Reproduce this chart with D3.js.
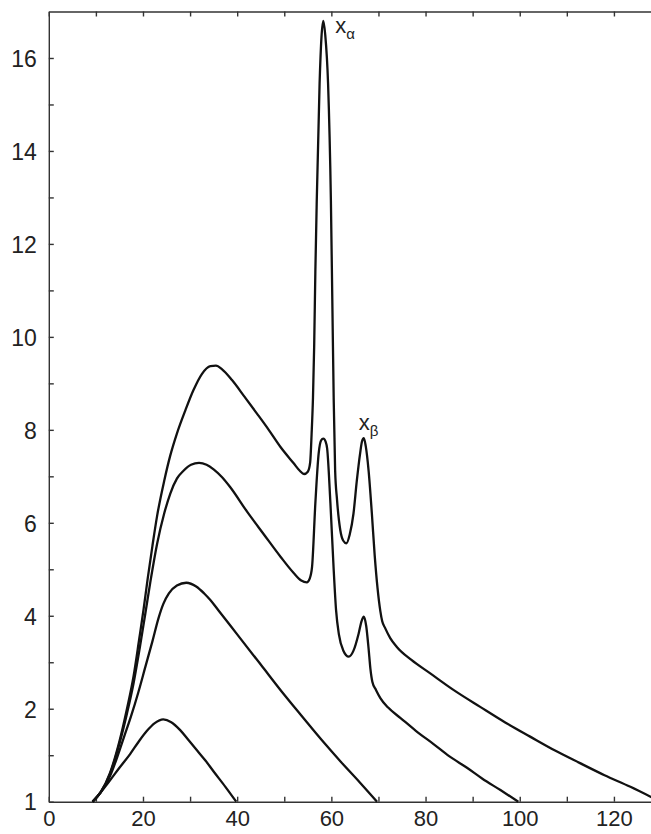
<!DOCTYPE html>
<html>
<head>
<meta charset="utf-8">
<script src="https://cdn.jsdelivr.net/npm/d3@7"></script>
<style>
  html, body { margin: 0; padding: 0; background: #fff; }
  svg { display: block; }
  text { font-family: "Liberation Sans", Arial, Helvetica, sans-serif; }
</style>
</head>
<body>
<svg id="chart" width="651" height="834"></svg>
<script>
// ---- data ----
const xTicks = [0, 10, 20, 30, 40, 50, 60, 70, 80, 90, 100, 110, 120];
const xTickLabels = ["0", "", "20", "", "40", "", "60", "", "80", "", "100", "", "120"];
const yTicks = [0, 1, 2, 3, 4, 5, 6, 7, 8, 9, 10, 11, 12, 13, 14, 15, 16];
const yTickLabels = ["1", "", "2", "", "4", "", "6", "", "8", "", "10", "", "12", "", "14", "", "16"];

const kv40 = [[9.3,0],[11,0.2],[13,0.46],[15,0.73],[17.3,1.03],[19,1.28],[20.8,1.52],[22.5,1.69],[24.3,1.77],[26,1.71],[27.9,1.54],[29.7,1.32],[31.5,1.1],[33.3,0.88],[35,0.65],[37.5,0.32],[39.8,0]];

const kv70 = [[9.3,0],[11,0.2],[13,0.55],[14.5,0.95],[16,1.4],[17.5,1.85],[19,2.35],[20.5,2.9],[22,3.45],[23.3,3.95],[24.3,4.25],[25.5,4.48],[27.2,4.65],[29.2,4.71],[31.3,4.63],[33,4.48],[34.3,4.34],[36,4.12],[40,3.6],[45,2.95],[50,2.3],[53.4,1.88],[58,1.32],[62,0.86],[66,0.42],[69.7,0]];

const kv100 = [[9.3,0],[11,0.2],[13,0.6],[15,1.25],[16.6,1.9],[18,2.55],[19.3,3.3],[20.5,4.05],[21.6,4.75],[23,5.55],[24.5,6.2],[25.8,6.63],[27.2,6.95],[28.6,7.12],[30.2,7.25],[31.9,7.29],[33.5,7.25],[35,7.15],[36.8,6.98],[38.5,6.77],[42.1,6.24],[45.6,5.76],[49.2,5.27],[52,4.92],[53.6,4.76],[54.8,4.72],[55.4,4.8],[55.9,5.05],[56.6,6.42],[57.3,7.49],[57.8,7.77],[58.3,7.81],[58.8,7.74],[59.1,7.6],[59.8,6.42],[60.5,4.98],[61.0,4.12],[61.6,3.6],[62.5,3.26],[63.7,3.12],[64.7,3.25],[65.8,3.62],[66.4,3.88],[66.9,3.98],[67.4,3.78],[67.9,3.3],[68.3,2.85],[68.7,2.58],[69.5,2.4],[70.4,2.23],[72,2.03],[74.7,1.8],[78,1.52],[81.7,1.24],[85,0.98],[88.8,0.73],[92,0.5],[95.9,0.25],[99.7,0]];

const kv128 = [[9.3,0],[11,0.2],[13,0.62],[15,1.3],[16.6,2.0],[18,2.7],[19.2,3.5],[20.1,4.12],[21,4.8],[22,5.5],[23,6.15],[24.5,6.9],[25.8,7.45],[27.2,7.92],[29,8.42],[30.7,8.85],[32.5,9.2],[34.3,9.37],[35.5,9.38],[36.8,9.3],[38.9,9.07],[41.5,8.72],[44.2,8.35],[46.7,8.0],[49.2,7.63],[52,7.28],[53.3,7.12],[54.2,7.05],[55.0,7.1],[55.5,7.3],[55.8,7.9],[56.1,8.7],[56.35,9.8],[56.6,11.4],[56.9,12.94],[57.5,15.45],[57.9,16.45],[58.3,16.8],[58.7,16.5],[59.3,15.45],[59.9,12.94],[60.2,10.8],[60.5,8.64],[60.8,7.13],[61.2,6.5],[61.9,5.84],[62.5,5.62],[63.2,5.56],[63.9,5.75],[64.7,6.2],[65.4,6.9],[66.1,7.49],[66.5,7.75],[66.9,7.82],[67.3,7.65],[67.9,7.13],[68.6,6.2],[69.2,5.3],[69.8,4.6],[70.4,4.1],[70.8,3.88],[71.4,3.74],[72.5,3.52],[73.9,3.33],[77,3.05],[81,2.76],[86,2.4],[91.6,2.04],[97,1.7],[102.2,1.4],[107.5,1.1],[112.8,0.83],[118,0.57],[123.5,0.32],[128.1,0.09]];

const seriesList = [kv40, kv70, kv100, kv128];

const peakLabels = [
  { base: "x", sub: "\u03B1", x: 60.8, y: 16.53 },
  { base: "x", sub: "\u03B2", x: 65.8, y: 8.0 }
];

// ---- chart ----
const svg = d3.select("#chart");

const x = d3.scaleLinear().domain([0, 128]).range([48.8, 651.6]);
const y = d3.scaleLinear().domain([0, 17]).range([801.7, 11.5]);

const axisColor = "#333";

// bottom axis
const gx = svg.append("g").attr("transform", `translate(0,${y(0)})`)
  .call(d3.axisBottom(x).tickValues(xTicks).tickSizeInner(-5).tickSizeOuter(0).tickPadding(9)
    .tickFormat((d, i) => xTickLabels[i]));
// top axis
const gt = svg.append("g").attr("transform", `translate(0,${y(17)})`)
  .call(d3.axisTop(x).tickValues(xTicks).tickSizeInner(-5).tickSizeOuter(0).tickFormat(""));
// left axis
const gy = svg.append("g").attr("transform", `translate(${x(0)},0)`)
  .call(d3.axisLeft(y).tickValues(yTicks).tickSizeInner(-5).tickSizeOuter(0).tickPadding(12)
    .tickFormat((d, i) => yTickLabels[i]));

[gx, gt, gy].forEach(g => {
  g.select(".domain").attr("stroke", axisColor).attr("stroke-width", 1.4);
  g.selectAll(".tick line").attr("stroke", axisColor).attr("stroke-width", 1.4);
  g.selectAll(".tick text").attr("fill", "#222")
    .style("font-family", "'Liberation Sans', Arial, sans-serif");
});
gy.selectAll(".tick text").style("font-size", "23px").attr("dy", "0.36em");
gx.selectAll(".tick text").style("font-size", "22px").attr("dy", "0.71em");

// curves
const line = d3.line()
  .x(d => x(d[0]))
  .y(d => y(d[1]))
  .curve(d3.curveMonotoneX);

svg.append("g").selectAll("path")
  .data(seriesList)
  .join("path")
  .attr("d", line)
  .attr("fill", "none")
  .attr("stroke", "#111")
  .attr("stroke-width", 2.3)
  .attr("stroke-linejoin", "round");

// peak labels
const lbl = svg.append("g").selectAll("text")
  .data(peakLabels)
  .join("text")
  .attr("x", d => x(d.x))
  .attr("y", d => y(d.y))
  .attr("fill", "#222")
  .style("font-size", "22px");
lbl.append("tspan").text(d => d.base);
lbl.append("tspan").attr("dy", 6).style("font-size", "15px").text(d => d.sub);
</script>
</body>
</html>
